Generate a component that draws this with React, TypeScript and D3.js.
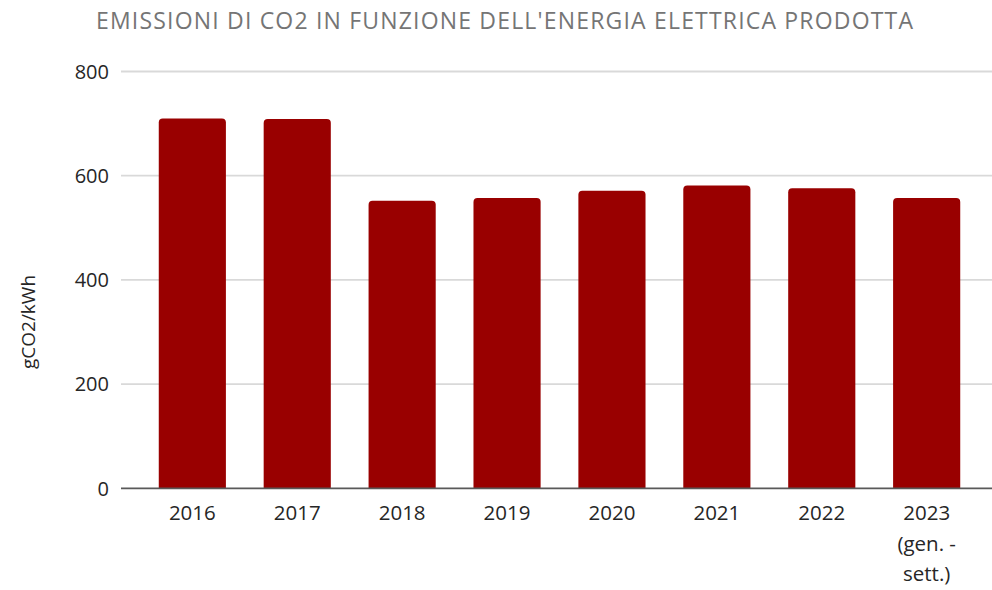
import React from "react";
import * as d3 from "d3";

const years = ["2016", "2017", "2018", "2019", "2020", "2021", "2022", "2023"];
const emissions = [710, 709, 552, 557, 571, 581, 576, 557];
const yTicks = [0, 200, 400, 600, 800];
const xLabelLines = [["2016"], ["2017"], ["2018"], ["2019"], ["2020"], ["2021"], ["2022"], ["2023", "(gen. -", "sett.)"]];

const W = 992;
const H = 590;
const font = "'Open Sans', sans-serif";

const topRounded = (x: number, y: number, w: number, h: number, r: number) =>
  `M${x},${y + h}V${y + r}Q${x},${y} ${x + r},${y}H${x + w - r}Q${x + w},${y} ${x + w},${y + r}V${y + h}Z`;

const App = () => {
  const x = d3
    .scaleBand()
    .domain(years)
    .range([121, 998])
    .paddingInner(0.36)
    .paddingOuter(0.36);

  const y = d3.scaleLinear().domain([0, 800]).range([488.3, 71.5]);

  return (
    <svg
      width={W}
      height={H}
      style={{ position: "absolute", left: 0, top: 0, background: "#fff" }}
    >
      <text
        x={96}
        y={29}
        textLength={817}
        lengthAdjust="spacing"
        fontFamily={font}
        fontSize={23}
        fill="#757575"
      >
        EMISSIONI DI CO2 IN FUNZIONE DELL'ENERGIA ELETTRICA PRODOTTA
      </text>

      {/* grid + y ticks */}
      {yTicks.map((t) => (
        <g key={t}>
          {t > 0 && (
            <line x1={121} x2={W} y1={y(t)} y2={y(t)} stroke="#d9d9d9" strokeWidth={1.8} />
          )}
          <text
            x={109}
            y={y(t)}
            dy="0.36em"
            textAnchor="end"
            fontFamily={font}
            fontSize={20}
            fill="#262626"
          >
            {t}
          </text>
        </g>
      ))}

      <text
        transform={`translate(35,322) rotate(-90)`}
        textAnchor="middle"
        fontFamily={font}
        fontSize={19}
        fill="#262626"
      >
        gCO2/kWh
      </text>

      {emissions.map((v, i) => (
        <path
          key={years[i]}
          d={topRounded(x(years[i])!, y(v), x.bandwidth(), y(0) - y(v), 4)}
          fill="#990000"
        />
      ))}

      <line x1={121} x2={W} y1={y(0)} y2={y(0)} stroke="#595959" strokeWidth={1.8} />

      {xLabelLines.map((lines, i) => (
        <text
          key={years[i]}
          x={x(years[i])! + x.bandwidth() / 2}
          y={520}
          textAnchor="middle"
          fontFamily={font}
          fontSize={20.5}
          fill="#262626"
        >
          {lines.map((l, j) => (
            <tspan key={j} x={x(years[i])! + x.bandwidth() / 2} dy={j === 0 ? 0 : 30.5}>
              {l}
            </tspan>
          ))}
        </text>
      ))}
    </svg>
  );
};

export default App;
